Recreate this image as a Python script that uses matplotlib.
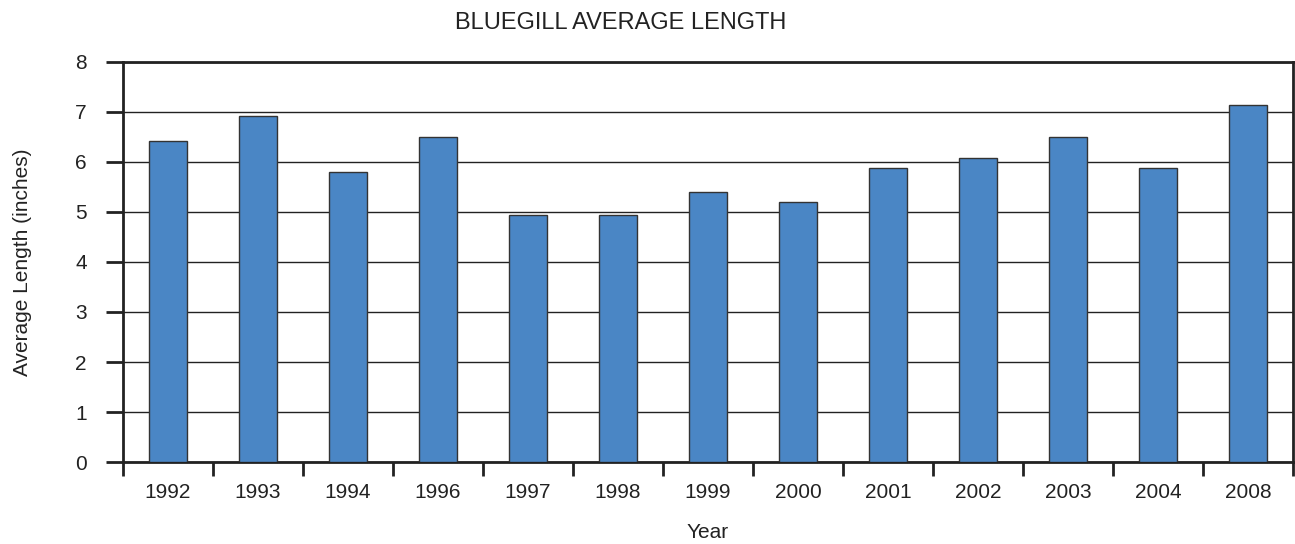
import matplotlib.pyplot as plt
import numpy as np

plt.rcParams['font.family'] = ['Liberation Sans', 'DejaVu Sans']

# Data
years = ['1992', '1993', '1994', '1996', '1997', '1998', '1999',
         '2000', '2001', '2002', '2003', '2004', '2008']
avg_length = [6.42, 6.92, 5.81, 6.5, 4.94, 4.94, 5.4,
              5.2, 5.88, 6.08, 6.5, 5.88, 7.13]

fig = plt.figure(figsize=(12.95, 5.44), dpi=100)
ax = fig.add_axes([123 / 1295, 1 - 462 / 544, 1170 / 1295, 400 / 544])

x = np.arange(len(years))
ax.bar(x, avg_length, width=0.42, color='#4a86c5', edgecolor='#333333',
       linewidth=1.0, zorder=3)

ax.set_xlim(-0.5, len(years) - 0.5)
ax.set_ylim(0, 8)
ax.set_yticks(range(0, 9))
ax.yaxis.grid(True, color='#222222', linewidth=1.0, zorder=0)

# ticks at category boundaries, labels centred under bars
ax.set_xticks(np.arange(-0.5, len(years)), minor=False)
ax.set_xticklabels([])
ax.set_xticks(x, minor=True)
ax.set_xticklabels(years, minor=True)
ax.tick_params(axis='x', which='major', direction='out', length=10, width=2, color='#222222')
ax.tick_params(axis='x', which='minor', length=0, pad=15, labelsize=15, labelcolor='#222222')
ax.tick_params(axis='y', direction='out', length=12, width=2, pad=14, labelsize=15,
               color='#222222', labelcolor='#222222')

for side in ['left', 'right', 'top', 'bottom']:
    ax.spines[side].set_linewidth(2)
    ax.spines[side].set_color('#222222')

fig.text(621 / 1295, 1 - 23 / 544, 'BLUEGILL AVERAGE LENGTH', fontsize=17,
         color='#222222', ha='center', va='center')
ax.set_xlabel('Year', fontsize=15, color='#222222', labelpad=15)
ax.set_ylabel('Average Length (inches)', fontsize=15, color='#222222', labelpad=31)

fig.savefig('out.png', dpi=100)
